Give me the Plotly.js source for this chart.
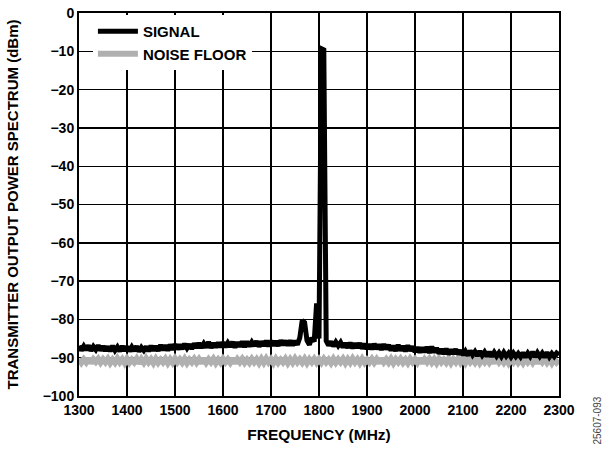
<!DOCTYPE html>
<html>
<head>
<meta charset="utf-8">
<script src="https://cdn.plot.ly/plotly-3.0.1.min.js"></script>
<style>html,body{margin:0;padding:0;background:#fff;}#chart{width:602px;height:449px;}</style>
</head>
<body>
<div id="chart"></div>
<script>
// Frequency sampling: 1300 to 2300 MHz in 5 MHz steps
const freqStart = 1300;
const freqStep = 5;

// SIGNAL trace (dBm), one value per 5 MHz
const signalDbm = [
  -86.9,-88.1,-87.0,-88.0,-86.8,-88.2,-87.1,-87.9,-86.8,-88.1,
  -87.0,-88.2,-87.1,-88.3,-86.9,-88.1,-87.2,-88.3,-87.0,-88.2,
  -87.1,-88.3,-87.2,-88.2,-87.0,-88.4,-87.3,-88.1,-87.1,-88.3,
  -86.9,-88.1,-87.0,-88.2,-86.7,-88.0,-86.8,-88.1,-86.6,-87.9,
  -86.5,-87.8,-86.6,-87.7,-86.4,-87.5,-86.5,-87.7,-86.3,-87.4,
  -86.2,-87.4,-86.3,-87.3,-85.9,-87.4,-86.2,-87.3,-86.1,-87.2,
  -86.0,-87.2,-86.1,-87.1,-85.9,-87.3,-86.0,-87.1,-85.8,-87.2,
  -85.8,-87.0,-85.9,-86.9,-85.7,-87.1,-85.8,-86.9,-85.6,-87.0,
  -85.6,-86.8,-85.7,-86.9,-85.5,-86.7,-85.6,-86.8,-85.5,-86.8,
  -85.6,-86.6,-84.8,-80.3,-80.8,-85.5,-86.6,-84.8,-85.8,-75.8,
  -85.0,-9.3,-9.6,-85.6,-86.8,-85.8,-87.0,-85.9,-86.9,-86.0,
  -87.3,-86.2,-87.4,-86.1,-87.5,-86.3,-87.4,-86.2,-87.6,-86.4,
  -87.7,-86.5,-87.8,-86.4,-87.7,-86.6,-87.9,-86.5,-87.8,-86.7,
  -88.1,-86.9,-88.2,-86.7,-88.1,-87.0,-88.3,-86.8,-88.2,-87.1,
  -88.5,-87.3,-88.6,-87.4,-88.5,-87.2,-88.7,-87.1,-88.6,-87.5,
  -88.9,-87.8,-89.0,-87.7,-89.1,-87.9,-89.0,-87.8,-89.1,-88.1,
  -89.3,-88.3,-89.4,-88.2,-89.3,-88.4,-89.5,-88.3,-89.4,-88.5,
  -89.6,-88.5,-89.7,-88.6,-89.6,-88.7,-89.7,-88.6,-89.6,-88.8,
  -89.8,-88.8,-89.7,-88.9,-89.8,-88.7,-89.9,-88.8,-89.7,-88.5,
  -89.8,-88.7,-89.7,-88.8,-89.9,-88.6,-89.8,-88.9,-89.7,-88.8,
  -89.3
];

// NOISE FLOOR trace (dBm), one value per 5 MHz
const noiseDbm = [
  -90.3,-91.3,-90.4,-91.2,-90.2,-91.4,-90.4,-91.1,-90.3,-91.3,
  -90.4,-91.2,-90.3,-91.4,-90.5,-91.3,-90.2,-91.2,-90.4,-91.4,
  -90.3,-91.3,-90.5,-91.2,-90.3,-91.5,-90.4,-91.3,-90.2,-91.2,
  -90.4,-91.4,-90.3,-91.3,-90.5,-91.2,-90.3,-91.4,-90.4,-91.3,
  -90.2,-91.2,-90.4,-91.3,-90.3,-91.4,-90.5,-91.2,-90.3,-91.3,
  -90.4,-91.4,-90.2,-91.3,-90.4,-91.2,-90.3,-91.4,-90.5,-91.3,
  -90.3,-91.2,-90.4,-91.3,-90.2,-91.4,-90.4,-91.2,-90.3,-91.3,
  -90.5,-91.3,-90.3,-91.2,-90.4,-91.4,-90.3,-91.3,-90.2,-91.2,
  -90.4,-91.4,-90.3,-91.3,-90.5,-91.2,-90.3,-91.4,-90.4,-91.3,
  -90.2,-91.2,-90.4,-91.3,-90.3,-91.4,-90.4,-91.2,-90.3,-91.3,
  -90.4,-91.3,-90.3,-91.2,-90.5,-91.4,-90.3,-91.3,-90.4,-91.2,
  -90.3,-91.4,-90.4,-91.3,-90.2,-91.2,-90.4,-91.4,-90.3,-91.3,
  -90.5,-91.2,-90.3,-91.3,-90.4,-91.4,-90.2,-91.2,-90.4,-91.3,
  -90.3,-91.4,-90.4,-91.2,-90.3,-91.3,-90.5,-91.4,-90.3,-91.2,
  -90.4,-91.3,-90.2,-91.4,-90.4,-91.2,-90.3,-91.3,-90.4,-91.4,
  -90.3,-91.2,-90.5,-91.3,-90.3,-91.4,-90.4,-91.2,-90.2,-91.3,
  -90.4,-91.4,-90.3,-91.2,-90.4,-91.3,-90.3,-91.4,-90.5,-91.2,
  -90.3,-91.3,-90.4,-91.4,-90.2,-91.2,-90.4,-91.3,-90.3,-91.4,
  -90.4,-91.2,-90.3,-91.3,-90.5,-91.4,-90.3,-91.2,-90.4,-91.3,
  -90.2,-91.4,-90.4,-91.2,-90.3,-91.3,-90.4,-91.4,-90.3,-91.2,
  -90.6
];

const xTicks = [1300,1400,1500,1600,1700,1800,1900,2000,2100,2200,2300];
const yTicks = [0,-10,-20,-30,-40,-50,-60,-70,-80,-90,-100];
const seriesNames = ["SIGNAL","NOISE FLOOR"];

const freqs = signalDbm.map((_, i) => freqStart + i * freqStep);

const FONT = "Arial, 'Liberation Sans', sans-serif";

const traces = [
  {x: freqs, y: noiseDbm, name: seriesNames[1], type: "scatter", mode: "lines",
   line: {color: "#b0b0b0", width: 6}, legendrank: 2},
  {x: freqs, y: signalDbm, name: seriesNames[0], type: "scatter", mode: "lines",
   line: {color: "#000000", width: 5}, legendrank: 1}
];

const layout = {
  width: 602, height: 449,
  margin: {l: 79, r: 43, t: 13, b: 53},
  paper_bgcolor: "#fff", plot_bgcolor: "#fff",
  font: {family: FONT, color: "#000", size: 14},
  showlegend: true,
  legend: {x: 0.029, y: 0.995, xanchor: "left", yanchor: "top",
           bgcolor: "#fff", borderwidth: 0,
           font: {family: FONT, size: 15, color: "#000", weight: "bold"},
           itemwidth: 40},
  xaxis: {range: [1300, 2300], tickvals: xTicks, ticktext: xTicks.map(String),
          showgrid: true, gridcolor: "#000", gridwidth: 1.4,
          showline: true, linecolor: "#000", linewidth: 2, mirror: true,
          ticks: "", zeroline: false,
          tickfont: {family: FONT, size: 14, weight: "bold", color: "#000"},
          title: {text: "FREQUENCY (MHz)", standoff: 12,
                  font: {family: FONT, size: 15.5, weight: "bold", color: "#000"}}},
  yaxis: {range: [-100, 0], tickvals: yTicks,
          showgrid: true, gridcolor: "#000", gridwidth: 1.4,
          showline: true, linecolor: "#000", linewidth: 2, mirror: true,
          ticks: "", zeroline: false,
          tickfont: {family: FONT, size: 14, weight: "bold", color: "#000"},
          title: {text: "TRANSMITTER OUTPUT POWER SPECTRUM (dBm)", standoff: 20,
                  font: {family: FONT, size: 15, weight: "bold", color: "#000"}}},
  annotations: [{text: "25607-093", xref: "paper", yref: "paper", x: 1.08, y: -0.063,
                 xanchor: "center", yanchor: "middle", textangle: -90, showarrow: false,
                 font: {family: FONT, size: 10, color: "#444"}}],
  hovermode: false
};

Plotly.newPlot("chart", traces, layout, {staticPlot: true, displayModeBar: false});
</script>
</body>
</html>
